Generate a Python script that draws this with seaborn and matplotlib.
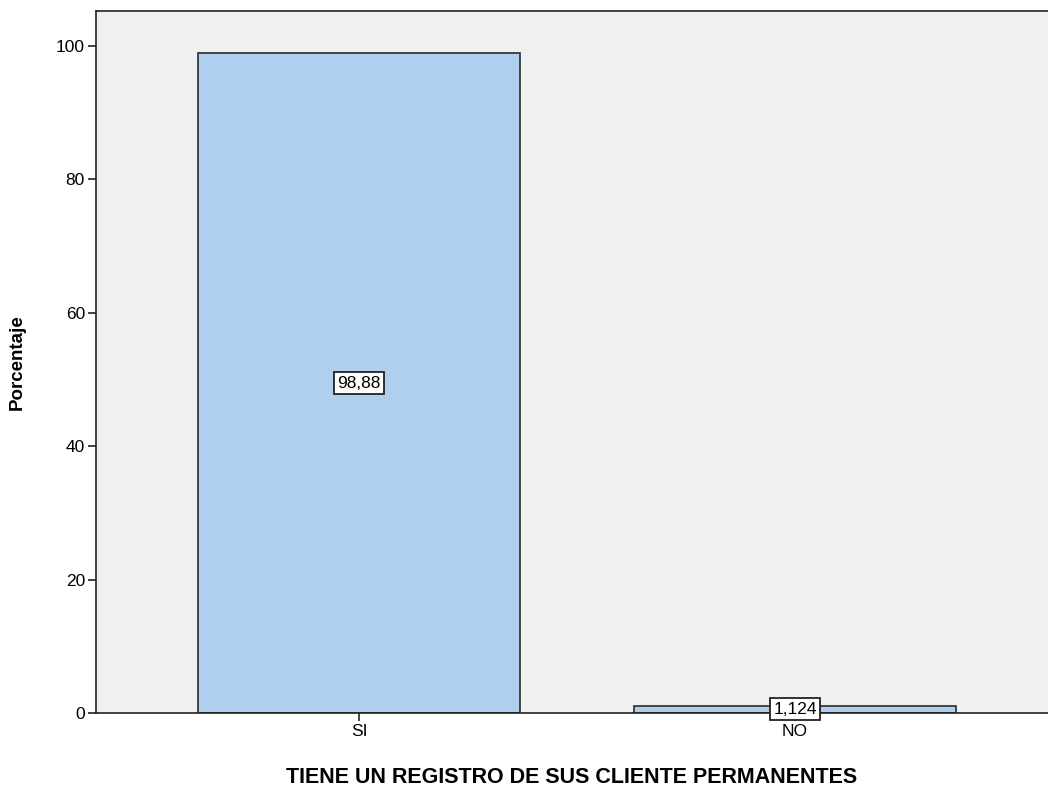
import matplotlib
matplotlib.use("Agg")
import matplotlib.pyplot as plt
import pandas as pd
import seaborn as sns

categories = ["SI", "NO"]
percentages = [98.88, 1.124]
value_labels = ["98,88", "1,124"]

BAR_COLOR = "#aecfee"
BG_COLOR = "#f0f0f0"

sns.set_style("white")
plt.rcParams["font.family"] = ["Liberation Sans", "DejaVu Sans"]
plt.rcParams["text.color"] = "black"
plt.rcParams["axes.labelcolor"] = "black"
plt.rcParams["xtick.color"] = "black"
plt.rcParams["ytick.color"] = "black"

df = pd.DataFrame({"cat": categories, "pct": percentages})

fig = plt.figure(figsize=(10.48, 7.89), dpi=100)
ax = fig.add_axes([0.0916, 0.0963, 0.9084, 0.8897])
sns.barplot(data=df, x="cat", y="pct", order=categories, color=BAR_COLOR,
            saturation=1, width=0.74, edgecolor="#2b2b2b", linewidth=1.2, ax=ax)

for i, (v, lab) in enumerate(zip(percentages, value_labels)):
    ax.text(i, v / 2, lab, ha="center", va="center", fontsize=12.5,
            bbox=dict(boxstyle="square,pad=0.2", fc="white", ec="#222222", lw=1.3),
            zorder=5)

ax.set_facecolor(BG_COLOR)
ax.set_xlim(-0.603, 1.58)
ax.set_ylim(0, 105.2)
ax.set_yticks([0, 20, 40, 60, 80, 100])
ax.tick_params(axis="both", direction="out", length=6, width=1.2, color="#222222",
               labelsize=12.5, left=True, bottom=True, pad=2)
for side in ["left", "bottom", "top"]:
    ax.spines[side].set_color("#222222")
    ax.spines[side].set_linewidth(1.2)
ax.spines["right"].set_visible(False)
ax.set_ylabel("Porcentaje", fontsize=13.5, fontweight="bold", labelpad=22)
ax.set_xlabel("TIENE UN REGISTRO DE SUS CLIENTE PERMANENTES", fontsize=15.5,
              fontweight="bold", labelpad=20)

fig.savefig("out.png", dpi=100)
